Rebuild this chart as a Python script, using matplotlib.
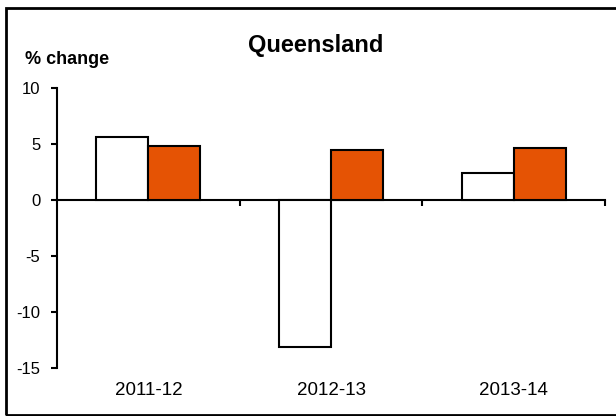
import matplotlib
matplotlib.use('Agg')
import matplotlib.pyplot as plt
from matplotlib.patches import Rectangle

years = ['2011-12', '2012-13', '2013-14']
white_series = [5.6, -13.1, 2.4]
orange_series = [4.8, 4.5, 4.6]
yticks = [-15, -10, -5, 0, 5, 10]

plt.rcParams['font.family'] = ['Liberation Sans', 'DejaVu Sans']
plt.rcParams['axes.unicode_minus'] = False

fig = plt.figure(figsize=(6.16, 4.16), dpi=100)
ax = fig.add_axes([57 / 616, 1 - 368 / 416, 548 / 616, 280 / 416])

x = range(len(years))
w = 0.285
ax.bar([i - w / 2 for i in x], white_series, w, color='white', edgecolor='black', linewidth=1.5)
ax.bar([i + w / 2 for i in x], orange_series, w, color='#e55304', edgecolor='black', linewidth=1.5)

ax.set_xlim(-0.5, 2.5)
ax.set_ylim(-15, 10)
ax.set_yticks(yticks)
ax.tick_params(axis='y', direction='out', length=4, width=1.5, labelsize=12, pad=8)
ax.spines['left'].set_linewidth(1.5)
for s in ['top', 'right', 'bottom']:
    ax.spines[s].set_visible(False)

# category labels at the bottom, no tick marks
ax.set_xticks(list(x))
ax.set_xticklabels(years, fontsize=13.5)
ax.tick_params(axis='x', length=0, pad=10)

# zero axis line with ticks at category boundaries
zax = ax.secondary_xaxis(0, transform=ax.transData)
zax.set_xticks([0.5, 1.5, 2.5])
zax.set_xticklabels([])
zax.tick_params(direction='out', length=4, width=1.5)
zax.spines['bottom'].set_linewidth(1.5)

fig.text(316 / 616, 1 - 52 / 416, 'Queensland', fontsize=17, fontweight='bold', ha='center', va='baseline')
fig.text(25 / 616, 1 - 59 / 416, '% change', fontsize=13, fontweight='bold', va='center')

fig.patches.append(Rectangle((6 / 616, 0.002), 1.0, 1 - 8 / 416 - 0.002, transform=fig.transFigure,
                             fill=False, edgecolor='black', linewidth=2))

fig.savefig('out.png', dpi=100)
